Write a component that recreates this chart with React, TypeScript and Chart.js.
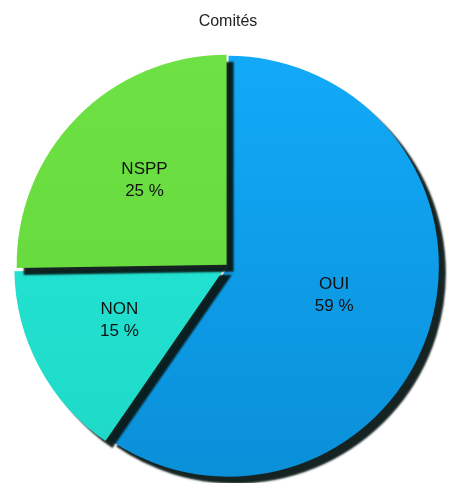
import React, { useEffect, useRef } from "react";
import { Chart, registerables } from "chart.js";

Chart.register(...registerables);

const categories = ["OUI", "NON", "NSPP"];
const values = [59, 15, 25];
const percentLabels = ["59 %", "15 %", "25 %"];
const sliceColors = [
  ["#12aaf8", "#0a8fd8"],
  ["#26eada", "#1ed8c6"],
  ["#6ee244", "#62d63a"],
];
const sliceOffsets = [2, 14, 8];
const chartTitle = "Comités";

const shadowPlugin = {
  id: "sliceShadow",
  beforeDatasetsDraw(chart: any) {
    const ctx = chart.ctx;
    ctx.save();
    ctx.shadowColor = "rgba(8,24,22,0.95)";
    ctx.shadowOffsetX = 7;
    ctx.shadowOffsetY = 7;
    ctx.shadowBlur = 2;
  },
  afterDatasetsDraw(chart: any) {
    chart.ctx.restore();
  },
};

const labelPlugin = {
  id: "sliceLabels",
  afterDraw(chart: any) {
    const ctx = chart.ctx;
    const meta = chart.getDatasetMeta(0);
    ctx.save();
    ctx.font = '17px "Liberation Sans", Arial, sans-serif';
    ctx.fillStyle = "#111";
    ctx.textAlign = "center";
    ctx.textBaseline = "middle";
    meta.data.forEach((arc: any, i: number) => {
      const p = arc.getProps(["x", "y", "startAngle", "endAngle", "outerRadius"], true);
      const mid = (p.startAngle + p.endAngle) / 2;
      const off = arc.options.offset || 0;
      const d = off + p.outerRadius * 0.52;
      const cx = p.x + Math.cos(mid) * d;
      const cy = p.y + Math.sin(mid) * d - 4;
      ctx.fillText(categories[i], cx, cy - 11);
      ctx.fillText(percentLabels[i], cx, cy + 11);
    });
    ctx.restore();
  },
};

export default function App() {
  const ref = useRef<HTMLCanvasElement>(null);
  useEffect(() => {
    document.body.style.margin = "0";
    const canvas = ref.current!;
    const chart = new Chart(canvas, {
      type: "pie",
      data: {
        labels: categories,
        datasets: [
          {
            data: values,
            borderWidth: 0,
            offset: sliceOffsets,
            backgroundColor: (c: any) => {
              const ch = c.chart;
              const area = ch.chartArea;
              const i = c.dataIndex;
              if (!area || i === undefined) return sliceColors[0][0];
              const g = ch.ctx.createLinearGradient(0, area.top, 0, area.bottom);
              g.addColorStop(0, sliceColors[i][0]);
              g.addColorStop(1, sliceColors[i][1]);
              return g;
            },
          },
        ],
      },
      options: {
        responsive: false,
        animation: false,
        layout: { padding: { left: 10, right: 7, top: 0, bottom: 0 } },
        plugins: {
          legend: { display: false },
          tooltip: { enabled: false },
          title: {
            display: true,
            text: chartTitle,
            color: "#222",
            font: { family: '"Liberation Sans", Arial, sans-serif', size: 16, weight: "normal" },
            padding: { top: 12, bottom: 18 },
          },
        },
      },
      plugins: [shadowPlugin, labelPlugin],
    } as any);
    return () => chart.destroy();
  }, []);
  return (
    <div style={{ position: "absolute", left: 0, top: 0, width: 453, height: 483, background: "#fff" }}>
      <canvas ref={ref} width={453} height={483} />
    </div>
  );
}
